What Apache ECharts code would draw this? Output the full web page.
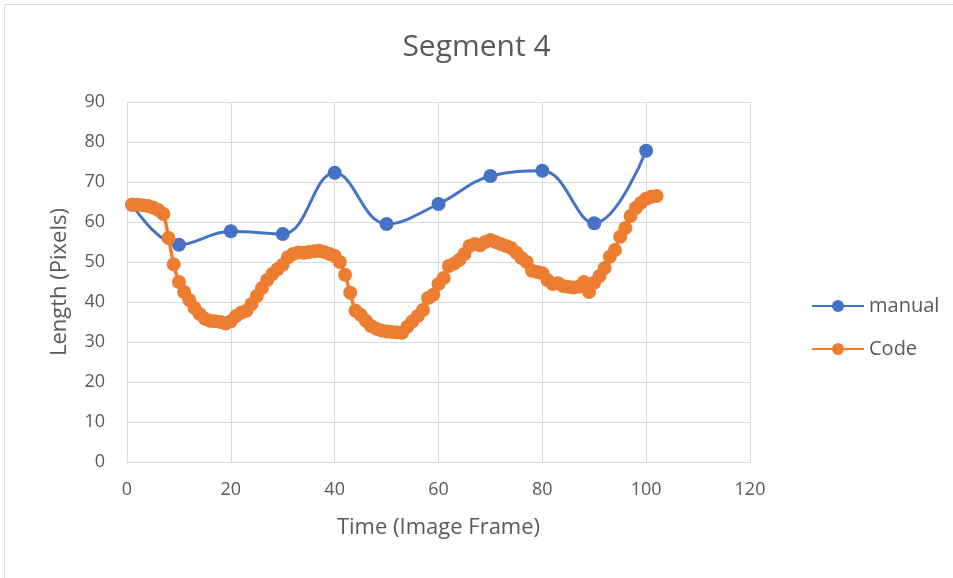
<!DOCTYPE html>
<html>
<head>
<meta charset="utf-8">
<script src="https://cdn.jsdelivr.net/npm/echarts@6/dist/echarts.min.js"></script>
<style>
  html, body { margin: 0; padding: 0; background: #fff; }
  #chart { width: 953px; height: 578px; }
</style>
</head>
<body>
<div id="chart"></div>
<script>
// Manual measurements, every 10 frames
const manualFrames = [1, 10, 20, 30, 40, 50, 60, 70, 80, 90, 100];
const manualLength = [64.3, 54.3, 57.7, 57.0, 72.3, 59.5, 64.5, 71.5, 72.8, 59.7, 77.8];

// Automated measurements, one per frame (frames 1..102)
const codeLength = [
  64.3, 64.3, 64.2, 64.0, 63.6, 63.0, 62.0, 56.0, 49.4, 45.0,
  42.5, 40.5, 38.5, 37.0, 35.8, 35.3, 35.2, 35.0, 34.6, 35.2,
  36.5, 37.3, 37.8, 39.5, 41.5, 43.5, 45.5, 47.0, 48.2, 49.3,
  51.2, 52.0, 52.4, 52.3, 52.5, 52.7, 52.8, 52.5, 52.0, 51.5,
  50.0, 46.8, 42.3, 37.8, 36.8, 35.3, 34.0, 33.3, 32.9, 32.6,
  32.5, 32.4, 32.3, 33.8, 35.2, 36.5, 38.0, 41.0, 41.8, 44.5,
  46.0, 49.0, 49.6, 50.5, 52.0, 54.0, 54.5, 54.2, 55.0, 55.5,
  55.0, 54.5, 54.0, 53.5, 52.3, 51.0, 50.0, 47.8, 47.5, 47.2,
  45.5, 44.5, 44.7, 44.0, 43.8, 43.6, 43.8, 45.0, 42.5, 44.8,
  46.5, 48.5, 51.3, 53.0, 56.3, 58.5, 61.5, 63.5, 64.8, 65.8,
  66.3, 66.5
];

const seriesNames = ['manual', 'Code'];
const chartTitle = 'Segment 4';
const xAxisTitle = 'Time (Image Frame)';
const yAxisTitle = 'Length (Pixels)';

const manualData = manualFrames.map((f, i) => [f, manualLength[i]]);
const codeData = codeLength.map((v, i) => [i + 1, v]);

const textColor = '#595959';
const gridColor = '#d9d9d9';
const font = 'Open Sans';

const chart = echarts.init(document.getElementById('chart'), null, { renderer: 'canvas' });
chart.setOption({
  backgroundColor: '#fff',
  animation: false,
  graphic: [{
    type: 'rect',
    shape: { x: 4.5, y: 4.5, width: 960, height: 600 },
    style: { fill: 'none', stroke: '#d9d9d9', lineWidth: 1 },
    silent: true
  }],
  title: {
    text: chartTitle,
    left: 'center',
    top: 27,
    textStyle: { fontFamily: font, fontSize: 30, fontWeight: 'normal', color: textColor }
  },
  legend: {
    orient: 'vertical',
    left: 806,
    top: 291,
    itemWidth: 52,
    itemHeight: 15,
    itemGap: 23,
    data: seriesNames,
    textStyle: { fontFamily: font, fontSize: 20, color: textColor, padding: [0, 0, 0, 0] }
  },
  grid: { left: 127, right: 203, top: 102, bottom: 116 },
  xAxis: {
    type: 'value',
    min: 0, max: 120, interval: 20,
    name: xAxisTitle,
    nameLocation: 'middle',
    nameGap: 55,
    nameTextStyle: { fontFamily: font, fontSize: 22, color: textColor },
    axisLine: { show: true, lineStyle: { color: gridColor, width: 1 } },
    axisTick: { show: false },
    axisLabel: { fontFamily: font, fontSize: 18, color: textColor, margin: 19 },
    splitLine: { show: true, lineStyle: { color: gridColor, width: 1 } }
  },
  yAxis: {
    type: 'value',
    min: 0, max: 90, interval: 10,
    name: yAxisTitle,
    nameLocation: 'middle',
    nameGap: 56,
    nameTextStyle: { fontFamily: font, fontSize: 22, color: textColor },
    axisLine: { show: false },
    axisTick: { show: false },
    axisLabel: { fontFamily: font, fontSize: 18, color: textColor, margin: 22 },
    splitLine: { show: true, lineStyle: { color: gridColor, width: 1 } }
  },
  series: [
    {
      name: seriesNames[0],
      type: 'line',
      data: manualData,
      smooth: 0.4,
      symbol: 'circle',
      symbolSize: 14,
      z: 2,
      itemStyle: { color: '#4472C4' },
      lineStyle: { color: '#4472C4', width: 3 }
    },
    {
      name: seriesNames[1],
      type: 'line',
      data: codeData,
      smooth: 0.4,
      symbol: 'circle',
      symbolSize: 14,
      z: 3,
      itemStyle: { color: '#ED7D31' },
      lineStyle: { color: '#ED7D31', width: 3.5 }
    }
  ]
});
</script>
</body>
</html>
